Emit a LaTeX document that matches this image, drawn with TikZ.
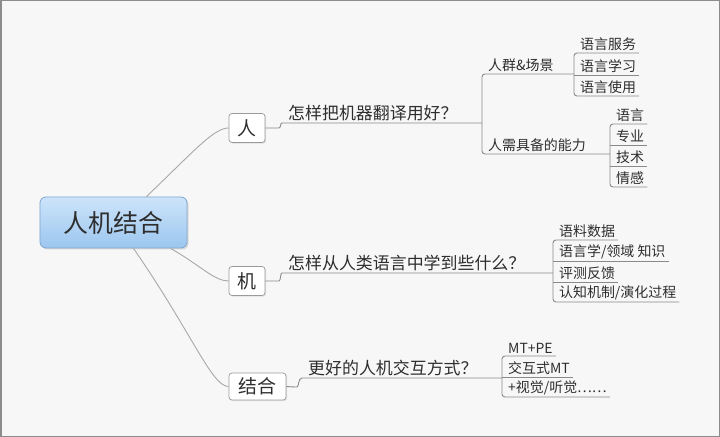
\documentclass[tikz,border=0pt]{standalone}
\usepackage{fontspec}
\setmainfont{Noto Sans CJK SC}
\usetikzlibrary{shadows,calc}
\definecolor{bgcol}{HTML}{F7F7F7}
\definecolor{framecol}{HTML}{8C8C8C}
\definecolor{linecol}{HTML}{A8A8A8}
\definecolor{ulcol}{HTML}{8A8A8A}
\definecolor{txtcol}{HTML}{2E2E2E}
\definecolor{roottop}{HTML}{CDE4FA}
\definecolor{rootbot}{HTML}{9CC6EF}
\definecolor{rootdraw}{HTML}{7FA6CF}
\definecolor{boxdraw}{HTML}{9A9A9A}
\begin{document}
\begin{tikzpicture}[x=1bp,y=-1bp,
  conn/.style={draw=linecol, line width=0.9bp},
  uline/.style={draw=ulcol, line width=0.9bp, rounded corners=3bp},
  root/.style={draw=rootdraw, line width=0.8bp, rounded corners=6bp, top color=roottop, bottom color=rootbot,
    minimum width=147bp, minimum height=51bp, font=\fontsize{25}{28}\selectfont, text=txtcol,
    drop shadow={shadow xshift=1.5bp, shadow yshift=-1.5bp, opacity=0.25}},
  kbox/.style={draw=boxdraw, line width=0.7bp, rounded corners=3bp, fill=white, minimum height=29bp,
    font=\fontsize{19}{22}\selectfont, text=txtcol,
    drop shadow={shadow xshift=1.2bp, shadow yshift=-1.2bp, opacity=0.2}},
  qtext/.style={anchor=south west, inner xsep=3bp, inner ysep=2bp, font=\fontsize{17}{20}\selectfont, text=txtcol},
  stext/.style={anchor=south west, inner xsep=3bp, inner ysep=2bp, font=\fontsize{14}{16}\selectfont, text=txtcol},
  itext/.style={anchor=south west, inner xsep=3bp, inner ysep=2bp, font=\fontsize{14}{16}\selectfont, text=txtcol},
]
\useasboundingbox (0,0) rectangle (720,437);
\fill[bgcol] (0,0) rectangle (720,437);
\draw[framecol, line width=1.5bp] (0.75,0.75) rectangle (719.25,436.25);

% root and first-level boxes
\node[root] (root) at (113.5,222.5) {人机结合};
\node[kbox, minimum width=36bp] (ren) at (247,128) {人};
\node[kbox, minimum width=36bp] (ji) at (247,281) {机};
\node[kbox, minimum width=57bp, minimum height=27bp] (jh) at (257.5,386.5) {结合};

\draw[conn] ([xshift=33bp]root.north) .. controls (195,150) and (214,128) .. (ren.west);
\draw[conn] ([xshift=57bp]root.south) .. controls (200,265) and (214,281) .. (ji.west);
\draw[conn] ([xshift=20bp]root.south) .. controls (192,333) and (212,387) .. (jh.west);

% ---------- 人 ----------
\node[qtext] (q1) at (285,123) {怎样把机器翻译用好？};
\coordinate (B1) at (482,123);
\draw[uline] (ren.east) -- (276,128) .. controls (281,128) and (280,123) .. (q1.south west) -- (B1);

\node[stext] (s1) at (485,74) {人群\&场景};
\node[stext] (s2) at (485,154) {人需具备的能力};
\coordinate (BA) at (574,74);
\coordinate (BB) at (610,154);
\draw[uline] (BA) -- (s1.south west -| B1) -- (s2.south west -| B1) -- (BB);

% group A
\node[itext] (a1) at (577,53) {语言服务};
\node[itext] (a2) at (577,75) {语言学习};
\node[itext] (a3) at (577,96) {语言使用};
\draw[uline] (a1.south east) -- (a1.south west -| BA) -- (a3.south west -| BA) -- (a3.south east);
\draw[uline] (a2.south west -| BA) -- (a2.south east);

% group B
\node[itext] (b1) at (613,124) {语言};
\node[itext] (b2) at (613,145) {专业};
\node[itext] (b3) at (613,166) {技术};
\node[itext] (b4) at (613,187) {情感};
\draw[uline] (b1.south east) -- (b1.south west -| BB) -- (b4.south west -| BB) -- (b4.south east);
\draw[uline] (b2.south west -| BB) -- (b2.south east);
\draw[uline] (b3.south west -| BB) -- (b3.south east);

% ---------- 机 ----------
\node[qtext] (q2) at (285,273) {怎样从人类语言中学到些什么？};
\coordinate (BC) at (553,273);
\draw[uline] (ji.east) -- (276,281) .. controls (281,281) and (280,273) .. (q2.south west) -- (BC);

\node[itext] (c1) at (556,240) {语料数据};
\node[itext] (c2) at (556,261) {语言学/领域 知识};
\node[itext] (c3) at (556,282) {评测反馈};
\node[itext] (c4) at (556,302) {认知机制/演化过程};
\draw[uline] (c1.south east) -- (c1.south west -| BC) -- (c4.south west -| BC) -- (c4.south east);
\draw[uline] (c2.south west -| BC) -- (c2.south east);
\draw[uline] (c3.south west -| BC) -- (c3.south east);

% ---------- 结合 ----------
\node[qtext] (q3) at (305,378) {更好的人机交互方式？};
\coordinate (BD) at (502,378);
\draw[uline] (jh.east) -- (294,387) .. controls (299,387) and (298,378) .. (q3.south west) -- (BD);

\node[itext] (d1) at (505,356) {MT+PE};
\node[itext] (d2) at (505,377) {交互式MT};
\node[itext] (d3) at (505,397) {+视觉/听觉……};
\draw[uline] (d1.south east) -- (d1.south west -| BD) -- (d3.south west -| BD) -- (d3.south east);
\draw[uline] (d2.south west -| BD) -- (d2.south east);
\end{tikzpicture}
\end{document}
